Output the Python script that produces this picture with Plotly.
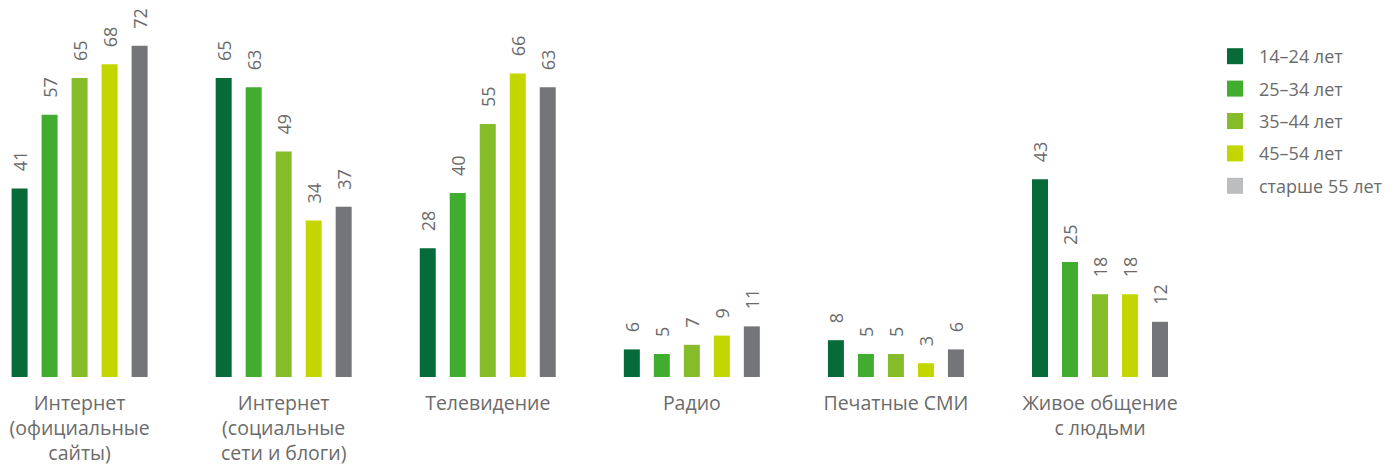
import plotly.graph_objects as go

categories = [
    "Интернет<br>(официальные<br>сайты)",
    "Интернет<br>(социальные<br>сети и блоги)",
    "Телевидение",
    "Радио",
    "Печатные СМИ",
    "Живое общение<br>с людьми",
]
age_groups = ["14–24 лет", "25–34 лет", "35–44 лет", "45–54 лет", "старше 55 лет"]

age_14_24 = [41, 65, 28, 6, 8, 43]
age_25_34 = [57, 63, 40, 5, 5, 25]
age_35_44 = [65, 49, 55, 7, 5, 18]
age_45_54 = [68, 34, 66, 9, 3, 18]
age_55_plus = [72, 37, 63, 11, 6, 12]

series = [age_14_24, age_25_34, age_35_44, age_45_54, age_55_plus]
bar_colors = ["#066b38", "#41ad2f", "#86bc29", "#c4d600", "#737578"]
legend_colors = ["#066b38", "#41ad2f", "#86bc29", "#c4d600", "#bcbdbe"]

FONT = "Open Sans"
TEXT_GRAY = "#6b6b6b"
PAD = "\u00a0" * 3  # lifts the rotated value labels off the bar tops

fig = go.Figure()

for name, values, color in zip(age_groups, series, bar_colors):
    fig.add_trace(go.Bar(
        x=categories,
        y=values,
        name=name,
        marker=dict(color=color, line=dict(width=0)),
        text=[PAD + str(v) for v in values],
        textposition="outside",
        textangle=-90,
        constraintext="none",
        textfont=dict(family=FONT, size=18, color=TEXT_GRAY),
        cliponaxis=False,
        showlegend=False,
    ))

# legend entries drawn as square markers
for i, (name, color) in enumerate(zip(age_groups, legend_colors)):
    fig.add_trace(go.Scatter(
        x=[None], y=[None],
        mode="markers",
        name=name,
        legendgroup=f"g{i}",
        marker=dict(symbol="square", size=16, color=color),
        showlegend=True,
    ))

fig.update_layout(
    width=1393,
    height=465,
    margin=dict(l=0, r=0, t=9, b=88),
    paper_bgcolor="white",
    plot_bgcolor="white",
    barmode="group",
    bargap=0.265,
    bargroupgap=0.467,
    font=dict(family=FONT, size=16, color=TEXT_GRAY),
    xaxis=dict(
        range=[-0.39, 5.49],
        domain=[0, 1200 / 1393],
        showgrid=False,
        zeroline=False,
        showline=False,
        ticks="",
        ticklabelstandoff=12,
        tickfont=dict(family=FONT, size=19.5, color=TEXT_GRAY),
    ),
    yaxis=dict(
        range=[0, 80],
        visible=False,
    ),
    legend=dict(
        x=1211 / 1393,
        y=(377 - 38) / 368,
        xanchor="left",
        yanchor="top",
        xref="paper",
        yref="paper",
        font=dict(family=FONT, size=18, color=TEXT_GRAY),
        tracegroupgap=6,
        itemwidth=38,
        bgcolor="rgba(0,0,0,0)",
    ),
)

fig.write_html("out.html")
